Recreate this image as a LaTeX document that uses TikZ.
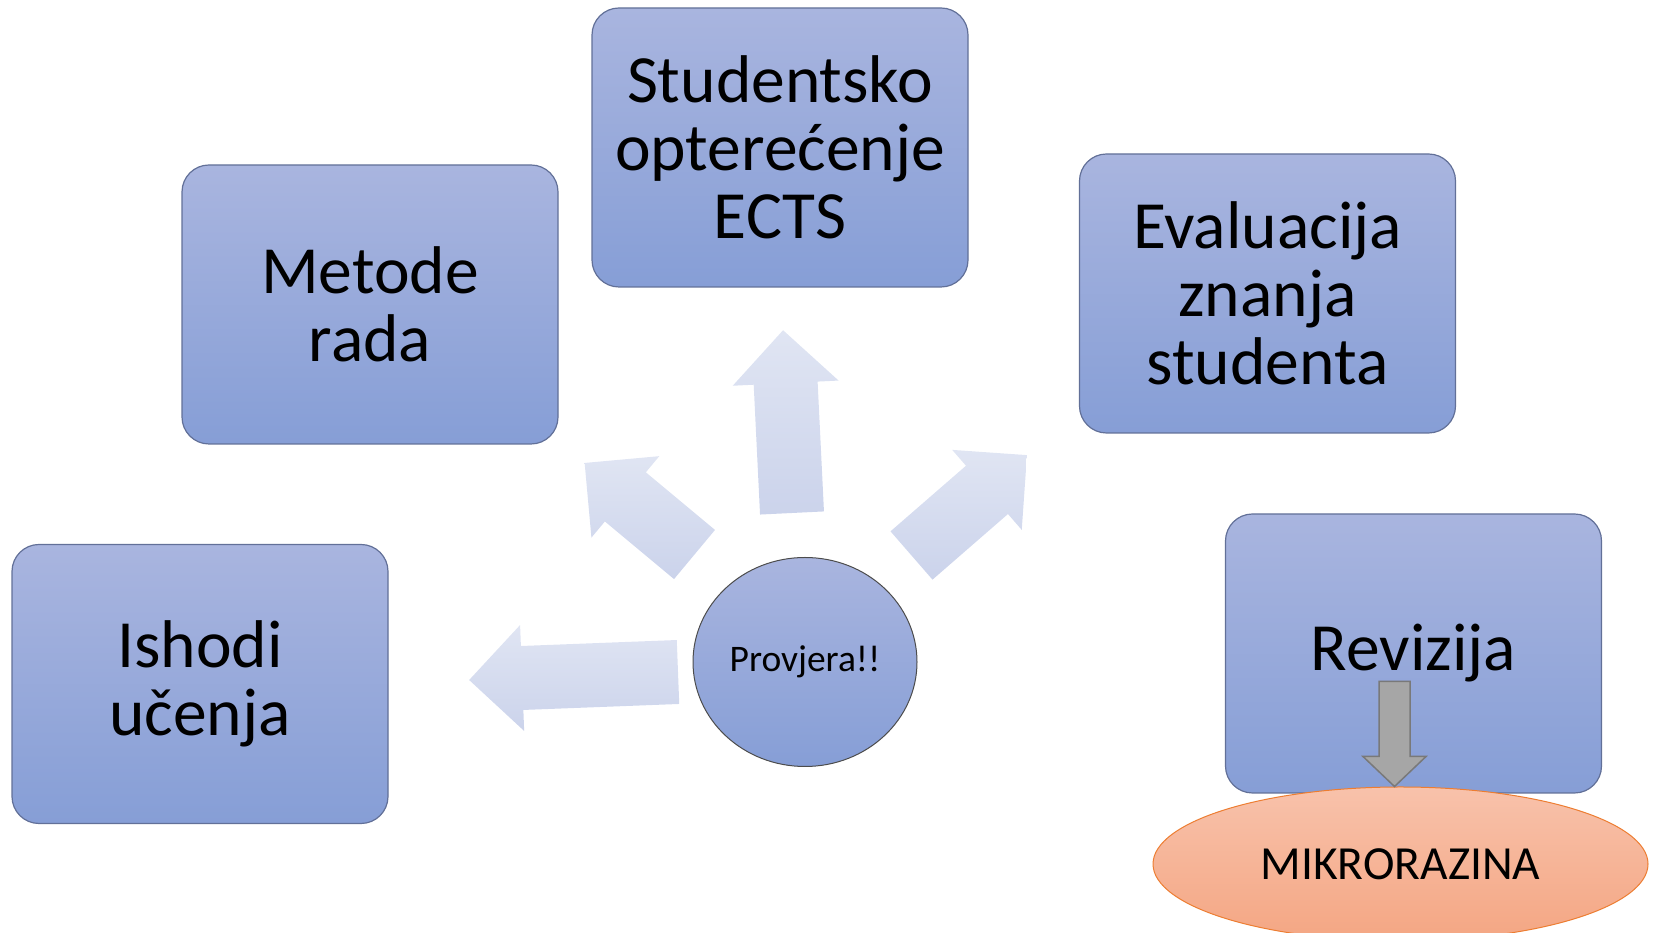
\documentclass[tikz,border=0pt]{standalone}
\usepackage{fontspec}
\setmainfont{Carlito}
\usepackage{tikz}
\usepackage{xcolor}
\usetikzlibrary{shapes,calc,positioning}

\definecolor{plavaGore}{RGB}{169,181,223}
\definecolor{plavaDolje}{RGB}{134,158,214}
\definecolor{plavaRub}{RGB}{98,112,152}
\definecolor{blijedaGore}{RGB}{224,229,243}
\definecolor{blijedaDolje}{RGB}{203,211,235}
\definecolor{narGore}{RGB}{248,194,171}
\definecolor{narDolje}{RGB}{244,166,131}
\definecolor{narRub}{RGB}{237,125,49}

\tikzset{
    blok/.style={rectangle, rounded corners=27pt, draw=plavaRub, line width=1.2pt,
        top color=plavaGore, bottom color=plavaDolje, minimum width=376pt,
        minimum height=279pt, inner sep=0pt, align=center,
        font=\fontsize{67.5}{68}\selectfont},
    krug/.style={ellipse, draw=gray!60!black, line width=1pt, top color=plavaGore,
        bottom color=plavaDolje, minimum width=224pt, minimum height=209pt,
        inner sep=0pt, font=\fontsize{37.5}{40}\selectfont},
    razina/.style={ellipse, draw=narRub, line width=1pt, top color=narGore,
        bottom color=narDolje, minimum width=495pt, minimum height=154pt,
        inner sep=0pt, font=\fontsize{47.5}{50}\selectfont},
    strelica/.style={top color=blijedaGore, bottom color=blijedaDolje},
    sivastrelica/.style={fill=gray!70, draw=gray!95!black, line width=1.5pt, line join=miter}
}

\begin{document}
\begin{tikzpicture}[x=1pt, y=1pt]
            \useasboundingbox (0,0) rectangle (1657,933);
            % teme oko provjere
            \node[blok] (ishodi) at (200,249) {Ishodi\\učenja};
            \node[blok] (metode) at (370,628.5) {Metode\\rada};
            \node[blok] (ects) at (780,785.5) {Studentsko\\opterećenje\\ECTS};
            \node[blok] (evaluacija) at (1267.5,639.5) {Evaluacija\\znanja\\studenta};
            \node[blok] (revizija) at (1413.5,279.5) {Revizija};
            \node[krug] (provjera) at (805,271) {Provjera!!};
            \node[razina] (mikro) at (1400.5,69) {MIKRORAZINA};

            % blijede strelice od provjere prema temama
            \foreach \ang/\dx/\dy/\len in {92.8/-13/149/183, 182.2/-127/-10/209, 140.2/-110.5/107.5/143, 41/106.5/106.5/153} {
                \path[strelica] ($(provjera)+(\dx,\dy)$) ++({\ang+90}:32) -- ++(\ang:{\len-53})
                    -- ++({\ang+90}:21) -- ++({\ang-45}:74.95) -- ++({\ang-135}:74.95)
                    -- ++({\ang+90}:21) -- ++({\ang+180}:{\len-53}) -- cycle;
            }

            % revizija -> mikrorazina
            \path[sivastrelica] ($(mikro.north)+(-6,0)$) -- ++(-31.5,30) -- ++(16,0) -- ++(0,75)
                -- ++(31,0) -- ++(0,-75) -- ++(16,0) -- cycle;
        \end{tikzpicture}
\end{document}
